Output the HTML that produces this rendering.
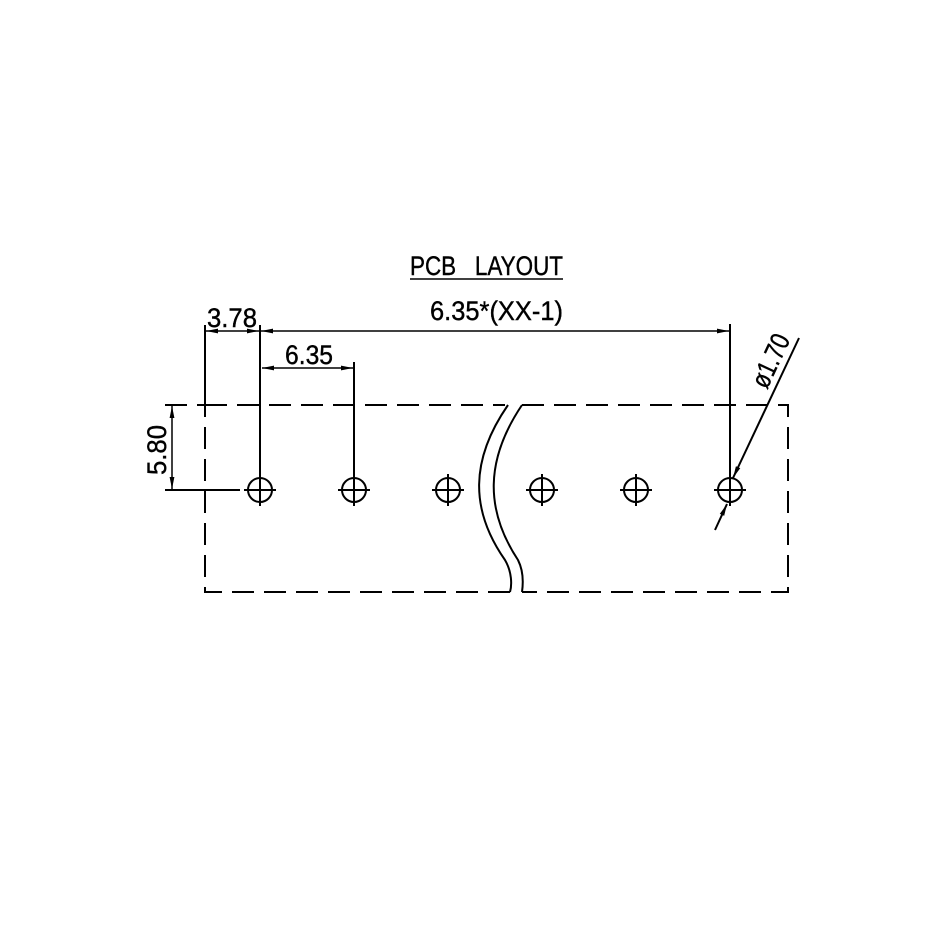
<!DOCTYPE html>
<html><head><style>html,body{margin:0;padding:0;background:#fff}svg{display:block}text{font-family:"Liberation Sans",sans-serif;fill:#000;stroke:#000;stroke-width:0.4}</style></head>
<body>
<svg width="946" height="946" viewBox="0 0 946 946" xmlns="http://www.w3.org/2000/svg">
<defs>
<marker id="a" viewBox="0 0 10 4" refX="10" refY="2" markerWidth="12" markerHeight="5" orient="auto-start-reverse" markerUnits="userSpaceOnUse"><path d="M0,0 L10,2 L0,4 z" fill="#000"/></marker>
</defs>
<g stroke="#000" stroke-width="2" fill="none">
<path d="M205,405 H505 M522,405 H788 V592 H522 M510,592 H205 V405" stroke-dasharray="22,10"/>
<path d="M165,405 H205" stroke-dasharray="22,10"/>
<path d="M508,405 C470,460 470,510 505,560 C512,572 512,585 510,592"/>
<path d="M522,405 C485,460 485,510 518,560 C524,572 523,585 522,592"/>
<g>
<circle cx="260" cy="490" r="12"/><circle cx="354" cy="490" r="12"/><circle cx="448" cy="490" r="12"/>
<circle cx="542" cy="490" r="12"/><circle cx="636" cy="490" r="12"/><circle cx="730" cy="490" r="12"/>
<path d="M244,490H276M260,474V506 M338,490H370M354,474V506 M432,490H464M448,474V506 M526,490H558M542,474V506 M620,490H652M636,474V506 M714,490H746M730,474V506"/>
</g>
<path d="M205,325 V405 M260,325 V478 M354,362 V478 M730,324 V478"/>
<path d="M165,490 H240"/>
<path d="M206,331 H259" marker-start="url(#a)" marker-end="url(#a)" stroke-width="1.5"/>
<path d="M261,331 H729" marker-start="url(#a)" marker-end="url(#a)" stroke-width="1.5"/>
<path d="M262,368 H353" marker-start="url(#a)" marker-end="url(#a)" stroke-width="1.5"/>
<path d="M172,406 V489" marker-start="url(#a)" marker-end="url(#a)" stroke-width="1.5"/>
<path d="M799,338 L733,478" stroke-width="2" marker-end="url(#a)"/>
<path d="M715,530 L727,504" stroke-width="2" marker-end="url(#a)"/>
<path d="M410,279 H563" stroke-width="1.5"/>
</g>
<text x="410" y="275" font-size="27" textLength="153" lengthAdjust="spacingAndGlyphs" xml:space="preserve">PCB   LAYOUT</text>
<text x="430" y="320" font-size="27" textLength="133" lengthAdjust="spacingAndGlyphs">6.35*(XX-1)</text>
<text x="207" y="327" font-size="27" textLength="50" lengthAdjust="spacingAndGlyphs">3.78</text>
<text x="285" y="364" font-size="27" textLength="48" lengthAdjust="spacingAndGlyphs">6.35</text>
<text font-size="27" transform="translate(166,475) rotate(-90)" textLength="50" lengthAdjust="spacingAndGlyphs">5.80</text>
<text font-size="27" transform="translate(767,390) rotate(-65)" textLength="56" lengthAdjust="spacingAndGlyphs">ø1.70</text>
</svg>
</body></html>
